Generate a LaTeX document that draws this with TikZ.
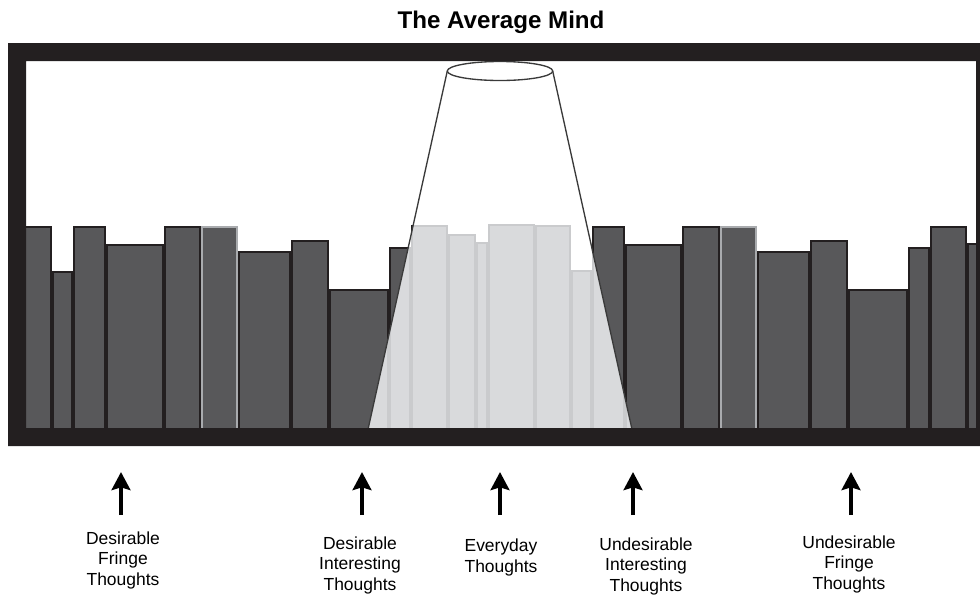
\documentclass[tikz,border=0pt]{standalone}
\usepackage{fontspec}
\setmainfont{Liberation Sans}
\usetikzlibrary{arrows.meta}
\definecolor{framecol}{HTML}{231F20}
\definecolor{barfill}{HTML}{58585A}
\definecolor{barline}{HTML}{231F20}
\definecolor{paleline}{HTML}{A9ABAE}
\definecolor{litfill}{HTML}{D9DADC}
\definecolor{litline}{HTML}{CACBCD}
\definecolor{beamline}{HTML}{3A3A3A}
\newcommand{\barlist}{16/52/226/barline, 52/73/271/barline, 73/106/226/barline,
  106/164/244/barline, 164/201/226/barline, 201/238/226/paleline,
  238/291/251/barline, 291/329/240/barline, 329/389/289/barline,
  389/411/247/barline, 411/448/225/barline, 448/476/234/barline,
  476/488/242/barline, 488/535/224/barline, 535/571/225/barline,
  571/592/270/barline, 592/625/226/barline, 625/682/244/barline,
  682/720/226/barline, 720/757/226/paleline, 757/810/251/barline,
  810/848/240/barline, 848/908/289/barline, 908/930/247/barline,
  930/967/226/barline, 967/990/243/barline}
\begin{document}
\begin{tikzpicture}[x=0.75pt,y=-0.75pt,
  bar/.style={fill=barfill,draw=barline,line width=1.5pt},
  litbar/.style={fill=litfill,draw=litline,line width=1.5pt},
  beam/.style={draw=beamline,line width=1pt},
  thought/.style={font=\fontsize{13.1}{15.2}\selectfont,align=center,anchor=base,inner sep=0pt},
  pointer/.style={line width=3pt,-{Stealth[length=13.5pt,width=14pt,inset=2pt]}}]
\useasboundingbox (0,0) rectangle (980,597);

\node[font=\fontsize{18.1}{20}\selectfont\bfseries,anchor=base] (title) at (501,28) {The Average Mind};

% thoughts on the shelf
\begin{scope}
  \clip (26,61) rectangle (976,428);
  \foreach \l/\r/\t/\c in \barlist
    \draw[bar,draw=\c] (\l+0.6,\t+0.75) rectangle (\r-0.6,440);
\end{scope}

% the spotlight
\coordinate (lamp) at (500,71);
\coordinate (beamL) at (447.3,71);
\coordinate (beamR) at (552.7,71);
\coordinate (footL) at (368.3,428);
\coordinate (footR) at (631.7,428);
\begin{scope}
  \clip (beamL) -- (footL) -- (footR) -- (beamR) -- cycle;
  \fill[white] (26,61) rectangle (976,428);
  \foreach \l/\r/\t/\c in \barlist
    \draw[litbar] (\l+0.6,\t+0.75) rectangle (\r-0.6,440);
\end{scope}
\draw[beam] (beamL) -- (footL);
\draw[beam] (beamR) -- (footR);
\draw[beam,fill=white] (lamp) ellipse [x radius=52.7,y radius=9.5];

% frame
\fill[framecol,even odd rule] (8,43) rectangle (980,446) (26,61) rectangle (976,428);

% labels (base = last line)
\node[thought] (dft) at (123,585) {Desirable\\Fringe\\Thoughts};
\node[thought] (dit) at (360,590) {Desirable\\Interesting\\Thoughts};
\node[thought] (edt) at (501,572) {Everyday\\Thoughts};
\node[thought] (uit) at (646,591) {Undesirable\\Interesting\\Thoughts};
\node[thought] (uft) at (849,589) {Undesirable\\Fringe\\Thoughts};

\foreach \n/\x in {dft/121,dit/362,edt/500,uit/633,uft/851}{
  \coordinate (\n-tail) at (\x,515);
  \coordinate (\n-tip) at (\x,472);
  \draw[pointer] (\n-tail) -- (\n-tip);
}
\end{tikzpicture}
\end{document}
